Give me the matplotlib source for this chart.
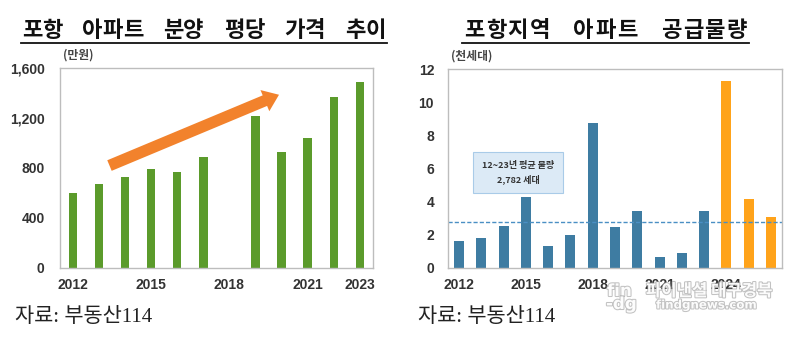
import matplotlib
matplotlib.use("Agg")
import matplotlib.pyplot as plt
import matplotlib.patheffects as pe
from matplotlib.patches import FancyArrowPatch
from matplotlib.lines import Line2D
import numpy as np

plt.rcParams['font.family'] = ['Noto Sans CJK KR', 'DejaVu Sans']

# ---- data ----
price_years = [2012, 2013, 2014, 2015, 2016, 2017, 2018, 2019, 2020, 2021, 2022, 2023]
price_values = [600, 670, 730, 790, 765, 885, 0, 1220, 925, 1040, 1370, 1485]
price_ticks = [2012, 2015, 2018, 2021, 2023]

supply_years = list(range(2012, 2027))
supply_values = [1.6, 1.8, 2.5, 4.25, 1.33, 2.0, 8.77, 2.45, 3.46, 0.64, 0.87, 3.42, 11.3, 4.17, 3.08]
supply_ticks = [2012, 2015, 2018, 2021, 2024]
supply_avg = 2.782
forecast_from = 2024

title_left = "포항 아파트 분양 평당 가격 추이"
title_right = "포항지역 아파트 공급물량"
source_text = "자료: 부동산114"

GREEN = "#5B9B2B"
ORANGE_ARROW = "#F2822C"
BLUE = "#3E7CA2"
ORANGE = "#FFA31A"
TICK_COLOR = "#333333"
FRAME = "#BDBDBD"
W, H = 800, 337

fig = plt.figure(figsize=(8.0, 3.37), dpi=100)
fig.patch.set_facecolor("white")

axL = fig.add_axes([0.075, 0.205, 0.391, 0.593])
axR = fig.add_axes([0.56, 0.205, 0.4175, 0.59])

def style(ax):
    for s in ax.spines.values():
        s.set_color(FRAME)
        s.set_linewidth(1.0)
    ax.tick_params(length=0, colors=TICK_COLOR, labelsize=10)
    for lab in ax.get_xticklabels() + ax.get_yticklabels():
        lab.set_fontweight("bold")
        lab.set_family(['Liberation Sans'])

# ---- left chart ----
xL = np.arange(len(price_years))
axL.bar(xL, price_values, width=0.32, color=GREEN)
axL.set_xlim(-0.5, len(price_years) - 0.5)
axL.set_ylim(0, 1600)
axL.set_yticks([0, 400, 800, 1200, 1600])
axL.set_yticklabels([f"{v:,}" for v in [0, 400, 800, 1200, 1600]])
axL.set_xticks([price_years.index(y) for y in price_ticks])
axL.set_xticklabels([str(y) for y in price_ticks])
axL.tick_params(axis='y', pad=11)
axL.tick_params(axis='x', pad=7)
style(axL)
arrow_start = (1.3, 811)
arrow_end = (8.0, 1395)
arr = FancyArrowPatch(arrow_start, arrow_end,
                      arrowstyle="simple,head_width=1.5,head_length=1.0,tail_width=0.75",
                      mutation_scale=11, color=ORANGE_ARROW, lw=0)
axL.add_patch(arr)
axL.text(0.01, 1.035, "(만원)", transform=axL.transAxes, fontsize=8.5,
         fontweight="bold", color="#444444", ha="left", va="bottom")

# ---- right chart ----
xR = np.arange(len(supply_years))
colors = [ORANGE if y >= forecast_from else BLUE for y in supply_years]
axR.bar(xR, supply_values, width=0.45, color=colors)
axR.set_xlim(-0.5, len(supply_years) - 0.5)
axR.set_ylim(0, 12)
axR.set_yticks(range(0, 13, 2))
axR.set_xticks([supply_years.index(y) for y in supply_ticks])
axR.set_xticklabels([str(y) for y in supply_ticks])
axR.tick_params(axis='y', pad=10)
axR.tick_params(axis='x', pad=7)
style(axR)
axR.axhline(supply_avg, color="#4A8FC4", lw=1.0, ls=(0, (3, 1.5)))
axR.text(2.65, 5.75, "12~23년 평균 물량\n2,782 세대", fontsize=6.5, fontweight="bold",
         color="#333333", ha="center", va="center", linespacing=1.45,
         bbox=dict(boxstyle="square,pad=1.0", fc="#DCEAF6", ec="#A9CBE8", lw=0.8))
axR.text(0.01, 1.035, "(천세대)", transform=axR.transAxes, fontsize=8.5,
         fontweight="bold", color="#444444", ha="left", va="bottom")

# ---- titles: letter-spaced, underlined ----
def spaced_title(x_start, pitch, s, size, yc=30.5, yline=42.5):
    for i, ch in enumerate(s):
        if ch == " ":
            continue
        fig.text((x_start + (i + 0.5) * pitch) / W, 1 - yc / H, ch, fontsize=size,
                 fontweight="bold", color="#111111", ha="center", va="center")
    x0 = x_start - 1
    x1 = x_start + len(s) * pitch + 1
    fig.add_artist(Line2D([x0 / W, x1 / W], [1 - yline / H] * 2, transform=fig.transFigure,
                          color="#111111", lw=1.3))

spaced_title(22, 20.2, title_left, 16)
spaced_title(463, 21.9, title_right, 16)

# ---- sources ----
for x in [15, 418]:
    fig.text(x / W, 1 - 318 / H, source_text, fontsize=15, color="#222222",
             family=['Liberation Serif', 'Noto Sans CJK KR'], ha="left", va="center")

# ---- watermark ----
wm_fx = [pe.withStroke(linewidth=1.5, foreground="#9a9a9a", alpha=0.6)]
fig.text(607 / W, 1 - 291 / H, "fin", fontsize=12, fontweight="bold", color="white",
         alpha=0.95, path_effects=wm_fx, family=['DejaVu Sans'], va="center")
fig.text(646 / W, 1 - 291 / H, "파이낸셜 대구경북", fontsize=12, fontweight="bold",
         color="white", alpha=0.95, path_effects=wm_fx, va="center")
fig.text(606 / W, 1 - 304 / H, "-dg", fontsize=12, fontweight="bold", color="white",
         alpha=0.95, path_effects=wm_fx, family=['DejaVu Sans'], va="center")
fig.text(656 / W, 1 - 305 / H, "findgnews.com", fontsize=8.5, fontweight="bold",
         color="white", alpha=0.95, path_effects=wm_fx, family=['DejaVu Sans'], va="center")

fig.savefig("out.png", dpi=100, facecolor="white")
